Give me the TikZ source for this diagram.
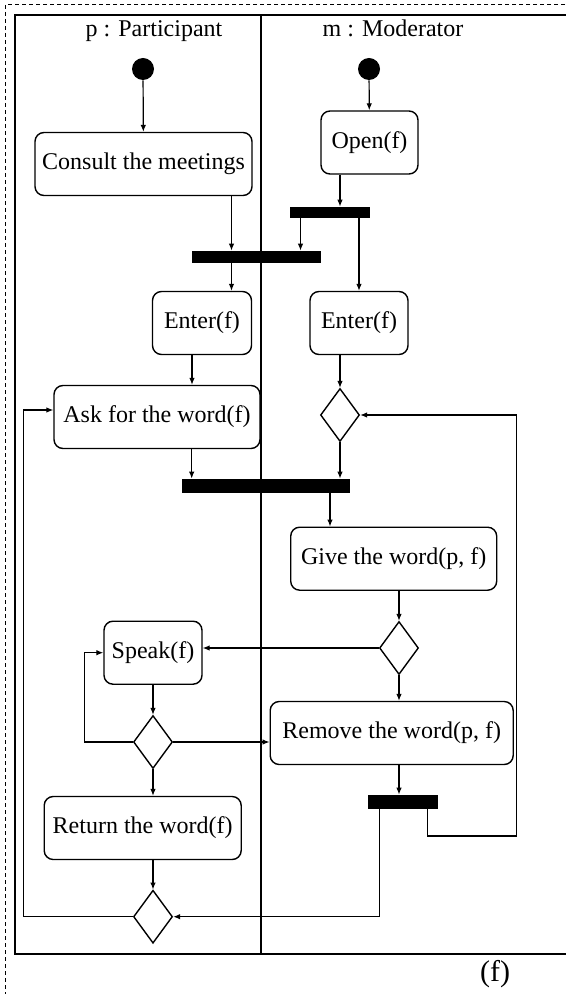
\documentclass[tikz,border=0pt]{standalone}
\usepackage{fontspec}
\setmainfont{Liberation Serif}
\usetikzlibrary{positioning, calc, arrows.meta, shapes.geometric}
\tikzset{
    actbox/.style={rectangle, rounded corners=4.5pt, draw, line width=0.7pt, align=center, minimum height=31.5pt, inner sep=2pt, font=\fontsize{12}{14}\selectfont},
    bar/.style={rectangle, fill=black, inner sep=0pt},
    decision/.style={diamond, draw, line width=0.7pt, inner sep=0pt, minimum width=19.5pt, minimum height=26.5pt},
    startdot/.style={circle, fill=black, inner sep=0pt, minimum size=11pt},
    lane/.style={rectangle, draw, line width=0.8pt, inner sep=0pt},
    lanetitle/.style={anchor=base, font=\fontsize{12}{14}\selectfont},
    arrow/.style={-{Latex[length=3.5pt,width=2.8pt]}, line width=0.6pt},
}

\begin{document}
\begin{tikzpicture}[x=0.5pt, y=-0.5pt]
    \useasboundingbox (0,0) rectangle (566,994);
    \clip (0,0) rectangle (566,994);
    \draw[dash pattern=on 2pt off 1.5pt, line width=0.5pt] (5,5) rectangle (600,1020);

    % swimlanes
    \node[lane, minimum width=123pt, minimum height=469.5pt] (lane_p) at (138,484.5) {};
    \node[lane, minimum width=169.5pt, minimum height=469.5pt] (lane_m) at (430.5,484.5) {};
    \node[lanetitle] (title_p) at (154,36.7) {p : Participant};
    \node[lanetitle] (title_m) at (393,36.7) {m : Moderator};

    \node[startdot] (init_p) at (143,69) {};
    \node[startdot] (init_m) at (369,69) {};
    \node[actbox, minimum width=108.5pt] (consult) at (143.5,164) {Consult the meetings};
    \node[actbox, minimum width=48.5pt] (open) at (369.5,142.5) {Open(f)};
    \node[bar, minimum width=40pt, minimum height=5.5pt] (fork1) at (330,212.5) {};
    \node[bar, minimum width=64.5pt, minimum height=6pt] (join1) at (256.5,257) {};
    \node[actbox, minimum width=49.5pt] (enter_p) at (202,323) {Enter(f)};
    \node[actbox, minimum width=49pt] (enter_m) at (359,323) {Enter(f)};
    \node[actbox, minimum width=103pt] (ask) at (157,417) {Ask for the word(f)};
    \node[decision] (dec1) at (340,415) {};
    \node[bar, minimum width=84pt, minimum height=7pt] (join2) at (266,486) {};
    \node[actbox, minimum width=103pt] (give) at (393.7,558.7) {Give the word(p, f)};
    \node[decision] (dec2) at (399,648) {};
    \node[actbox, minimum width=49pt] (speak) at (153,652.7) {Speak(f)};
    \node[actbox, minimum width=121.5pt] (remove) at (391.7,733) {Remove the word(p, f)};
    \node[decision] (dec3) at (153,742) {};
    \node[bar, minimum width=35pt, minimum height=7pt] (fork2) at (403,802) {};
    \node[actbox, minimum width=98.5pt] (return) at (142.7,828) {Return the word(f)};
    \node[decision] (dec4) at (153,916.7) {};
    \node[font=\fontsize{15}{18}\selectfont, anchor=base] (caption) at (495,981.7) {(f)};
    \coordinate (back) at (516.7,836);

    \draw[arrow] (init_p) -- (consult);
    \draw[arrow] (init_m) -- (open);
    \draw[arrow] ([xshift=44pt]consult.south) -- ([xshift=44pt]consult.south |- join1.north);
    \draw[arrow] ([xshift=-14.75pt]open.south) -- ([xshift=-14.75pt]open.south |- fork1.north);
    \draw[arrow] ([xshift=-14.75pt]fork1.south) -- ([xshift=-14.75pt]fork1.south |- join1.north);
    \draw[arrow] (fork1.south -| enter_m.north) -- (enter_m.north);
    \draw[arrow] ([xshift=44pt]consult.south |- join1.south) -- ([xshift=44pt]consult.south |- enter_p.north);
    \draw[arrow] ([xshift=-5pt]enter_p.south) -- ([xshift=-5pt]enter_p.south |- ask.north);
    \draw[arrow] (dec1.north |- enter_m.south) -- (dec1.north);
    \draw[arrow] ([xshift=17.35pt]ask.south) -- ([xshift=17.35pt]ask.south |- join2.north);
    \draw[arrow] (dec1.south) -- (dec1.south |- join2.north);
    \draw[arrow] ([xshift=32pt]join2.south) -- ([xshift=32pt]join2.south |- give.north);
    \draw[arrow] (dec2.north |- give.south) -- (dec2.north);
    \draw[arrow] (dec2.west) -- (dec2.west -| speak.east);
    \draw[arrow] (dec2.south) -- (dec2.south |- remove.north);
    \draw[arrow] (dec2.south |- remove.south) -- (dec2.south |- fork2.north);
    \draw[arrow] (speak.south) -- (dec3.north);
    \draw[arrow] (dec3.west) -- ([xshift=-24.15pt]dec3.west) |- (speak.west);
    \draw[arrow] (dec3.east) -- (dec3.east -| remove.west);
    \draw[arrow] (dec3.south) -- (dec3.south |- return.north);
    \draw[arrow] (dec4.north |- return.south) -- (dec4.north);
    \draw[arrow] (dec4.west) -- ([xshift=-54.5pt]dec4.west) |- ([yshift=3.5pt]ask.west);
    \draw[arrow] ([xshift=-11.85pt]fork2.south) |- (dec4.east);
    \draw[arrow] ([xshift=12.35pt]fork2.south) |- (back) |- (dec1.east);
\end{tikzpicture}
\end{document}
